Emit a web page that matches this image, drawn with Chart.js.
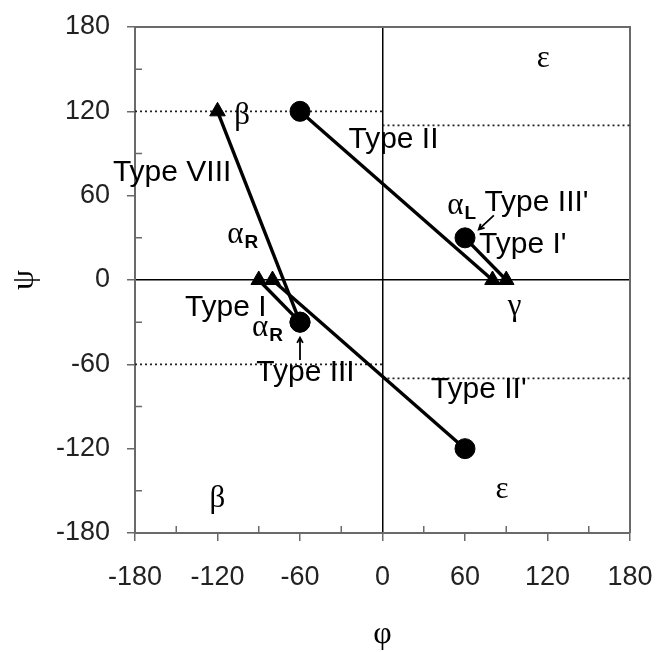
<!DOCTYPE html>
<html>
<head>
<meta charset="utf-8">
<script src="https://cdn.jsdelivr.net/npm/chart.js@4.4.1/dist/chart.umd.min.js"></script>
<style>
  html, body { margin: 0; padding: 0; background: #fff; }
  #wrap { width: 657px; height: 652px; }
</style>
</head>
<body>
<div id="wrap"><canvas id="rama" width="657" height="652"></canvas></div>
<script>
const axisTicks = [-180, -120, -60, 0, 60, 120, 180];
const minorTicks = [-150, -90, -30, 30, 90, 150];

// turn types: residue i+1 (circle) -> residue i+2 (triangle)
const turnNames = ['Type I', 'Type II', "Type I'", "Type II'", 'Type VIII'];
const phi1 = [-60, -60, 60, 60, -60];
const psi1 = [-30, 120, 30, -120, -30];
const phi2 = [-90, 80, 90, -80, -120];
const psi2 = [0, 0, 0, 0, 120];

// dotted region borders
const borderPhiFrom = [-180, 0, -180, 0];
const borderPhiTo = [0, 180, 0, 180];
const borderPsi = [120, 110, -60, -70];

// text on the plot, in (phi, psi)
const notes = [
    { text: 'Type II', phi: 8, psi: 100 },
    { text: 'Type VIII', phi: -153, psi: 76 },
    { text: 'Type I', phi: -114, psi: -20 },
    { text: 'Type III', phi: -56, psi: -66 },
    { text: "Type II'", phi: 70, psi: -78 },
    { text: "Type III'", phi: 112, psi: 55 },
    { text: "Type I'", phi: 102, psi: 25 },
    { text: 'β', phi: -102, psi: 117, greek: true },
    { text: 'β', phi: -120, psi: -156, greek: true },
    { text: 'γ', phi: 96, psi: -19, greek: true },
    { text: 'ε', phi: 117, psi: 157, greek: true },
    { text: 'ε', phi: 87, psi: -149, greek: true },
    { text: 'α', sub: 'R', phi: -107, psi: 32, greek: true },
    { text: 'α', sub: 'R', phi: -89, psi: -34, greek: true },
    { text: 'α', sub: 'L', phi: 53, psi: 53, greek: true },
];

const arrows = [
    { from: [-60, -57], to: [-60, -41] },
    { from: [81, 46], to: [70, 36] },
];

const SANS = '"Liberation Sans", Arial, sans-serif';
const SERIF = '"Liberation Serif", "Times New Roman", serif';
const AXIS_GRAY = '#6a6a6a';

const datasets = [];

datasets.push({
    label: 'i+1',
    data: phi1.map((p, i) => ({ x: p, y: psi1[i] })),
    pointStyle: 'circle',
    pointRadius: 10,
    backgroundColor: '#000',
    borderColor: '#000',
    showLine: false,
    order: 0
});
datasets.push({
    label: 'i+2',
    data: phi2.map((p, i) => ({ x: p, y: psi2[i] })),
    pointStyle: 'triangle',
    pointRadius: 9,
    backgroundColor: '#000',
    borderColor: '#000',
    showLine: false,
    order: 0
});

turnNames.forEach((name, i) => {
    datasets.push({
        label: name,
        data: [{ x: phi1[i], y: psi1[i] }, { x: phi2[i], y: psi2[i] }],
        showLine: true,
        borderColor: '#000',
        borderWidth: 3.4,
        pointRadius: 0,
        order: 1
    });
});

borderPsi.forEach((psi, i) => {
    datasets.push({
        label: 'border ' + i,
        data: [{ x: borderPhiFrom[i], y: psi }, { x: borderPhiTo[i], y: psi }],
        showLine: true,
        borderColor: '#222',
        borderWidth: 1.6,
        borderDash: [2, 3],
        pointRadius: 0,
        order: 2
    });
});

// frame on top/right plus the short inner ticks
const framePlugin = {
    id: 'frame',
    beforeDatasetsDraw(chart) {
        const { ctx, chartArea: a, scales } = chart;
        ctx.save();
        ctx.strokeStyle = AXIS_GRAY;
        ctx.lineWidth = 2;
        ctx.beginPath();
        ctx.moveTo(a.left, a.top);
        ctx.lineTo(a.right, a.top);
        ctx.lineTo(a.right, a.bottom);
        ctx.stroke();

        ctx.lineWidth = 1.5;
        ctx.beginPath();
        minorTicks.forEach(v => {
            const px = scales.x.getPixelForValue(v);
            ctx.moveTo(px, a.bottom);
            ctx.lineTo(px, a.bottom - 7);
            const py = scales.y.getPixelForValue(v);
            ctx.moveTo(a.left, py);
            ctx.lineTo(a.left + 7, py);
        });
        ctx.stroke();
        ctx.restore();
    }
};

const notesPlugin = {
    id: 'notes',
    afterDatasetsDraw(chart) {
        const { ctx, scales } = chart;
        ctx.save();
        ctx.fillStyle = '#000';
        ctx.textBaseline = 'middle';
        notes.forEach(n => {
            const x = scales.x.getPixelForValue(n.phi);
            const y = scales.y.getPixelForValue(n.psi);
            ctx.font = n.greek ? `31px ${SERIF}` : `30px ${SANS}`;
            ctx.textAlign = 'center';
            ctx.fillText(n.text, x, y);
            if (n.sub) {
                const w = ctx.measureText(n.text).width;
                ctx.font = `bold 19px ${SANS}`;
                ctx.textAlign = 'left';
                ctx.fillText(n.sub, x + w / 2 + 1, y + 8);
            }
        });

        ctx.strokeStyle = '#000';
        ctx.lineWidth = 1.8;
        arrows.forEach(ar => {
            const x0 = scales.x.getPixelForValue(ar.from[0]);
            const y0 = scales.y.getPixelForValue(ar.from[1]);
            const x1 = scales.x.getPixelForValue(ar.to[0]);
            const y1 = scales.y.getPixelForValue(ar.to[1]);
            const ang = Math.atan2(y1 - y0, x1 - x0);
            ctx.beginPath();
            ctx.moveTo(x0, y0);
            ctx.lineTo(x1, y1);
            ctx.moveTo(x1 - 6 * Math.cos(ang - 0.5), y1 - 6 * Math.sin(ang - 0.5));
            ctx.lineTo(x1, y1);
            ctx.lineTo(x1 - 6 * Math.cos(ang + 0.5), y1 - 6 * Math.sin(ang + 0.5));
            ctx.stroke();
        });
        ctx.restore();
    }
};

const zeroLine = (c) => (c.tick && c.tick.value === 0) ? '#000' : 'rgba(0,0,0,0)';

new Chart(document.getElementById('rama'), {
    type: 'scatter',
    data: { datasets },
    options: {
        responsive: false,
        animation: false,
        layout: { padding: { top: 27, right: 27, left: 0, bottom: 0 } },
        plugins: {
            legend: { display: false },
            tooltip: { enabled: false }
        },
        scales: {
            x: {
                type: 'linear',
                min: -180,
                max: 180,
                afterBuildTicks: (s) => { s.ticks = axisTicks.map(v => ({ value: v })); },
                afterFit: (s) => { s.height = 119; s.paddingLeft = 0; s.paddingRight = 0; },
                ticks: {
                    color: '#222',
                    font: { family: SANS, size: 27 },
                    padding: 20,
                    maxRotation: 0
                },
                grid: { color: zeroLine, lineWidth: 1.5, tickLength: 8, tickColor: AXIS_GRAY, tickWidth: 1.5 },
                border: { color: AXIS_GRAY, width: 2 },
                title: {
                    display: true,
                    text: 'φ',
                    color: '#000',
                    font: { family: SERIF, size: 32, lineHeight: 1 },
                    padding: { top: 0, bottom: 1 }
                }
            },
            y: {
                type: 'linear',
                min: -180,
                max: 180,
                afterBuildTicks: (s) => { s.ticks = axisTicks.map(v => ({ value: v })); },
                afterFit: (s) => { s.width = 135; s.paddingTop = 0; s.paddingBottom = 0; },
                ticks: {
                    color: '#222',
                    font: { family: SANS, size: 27 },
                    padding: 17
                },
                grid: { color: zeroLine, lineWidth: 1.5, tickLength: 8, tickColor: AXIS_GRAY, tickWidth: 1.5 },
                border: { color: AXIS_GRAY, width: 2 },
                title: {
                    display: true,
                    text: 'ψ',
                    color: '#000',
                    font: { family: SERIF, size: 32, lineHeight: 1 },
                    padding: { top: 9, bottom: 0 }
                }
            }
        }
    },
    plugins: [framePlugin, notesPlugin]
});
</script>
</body>
</html>
